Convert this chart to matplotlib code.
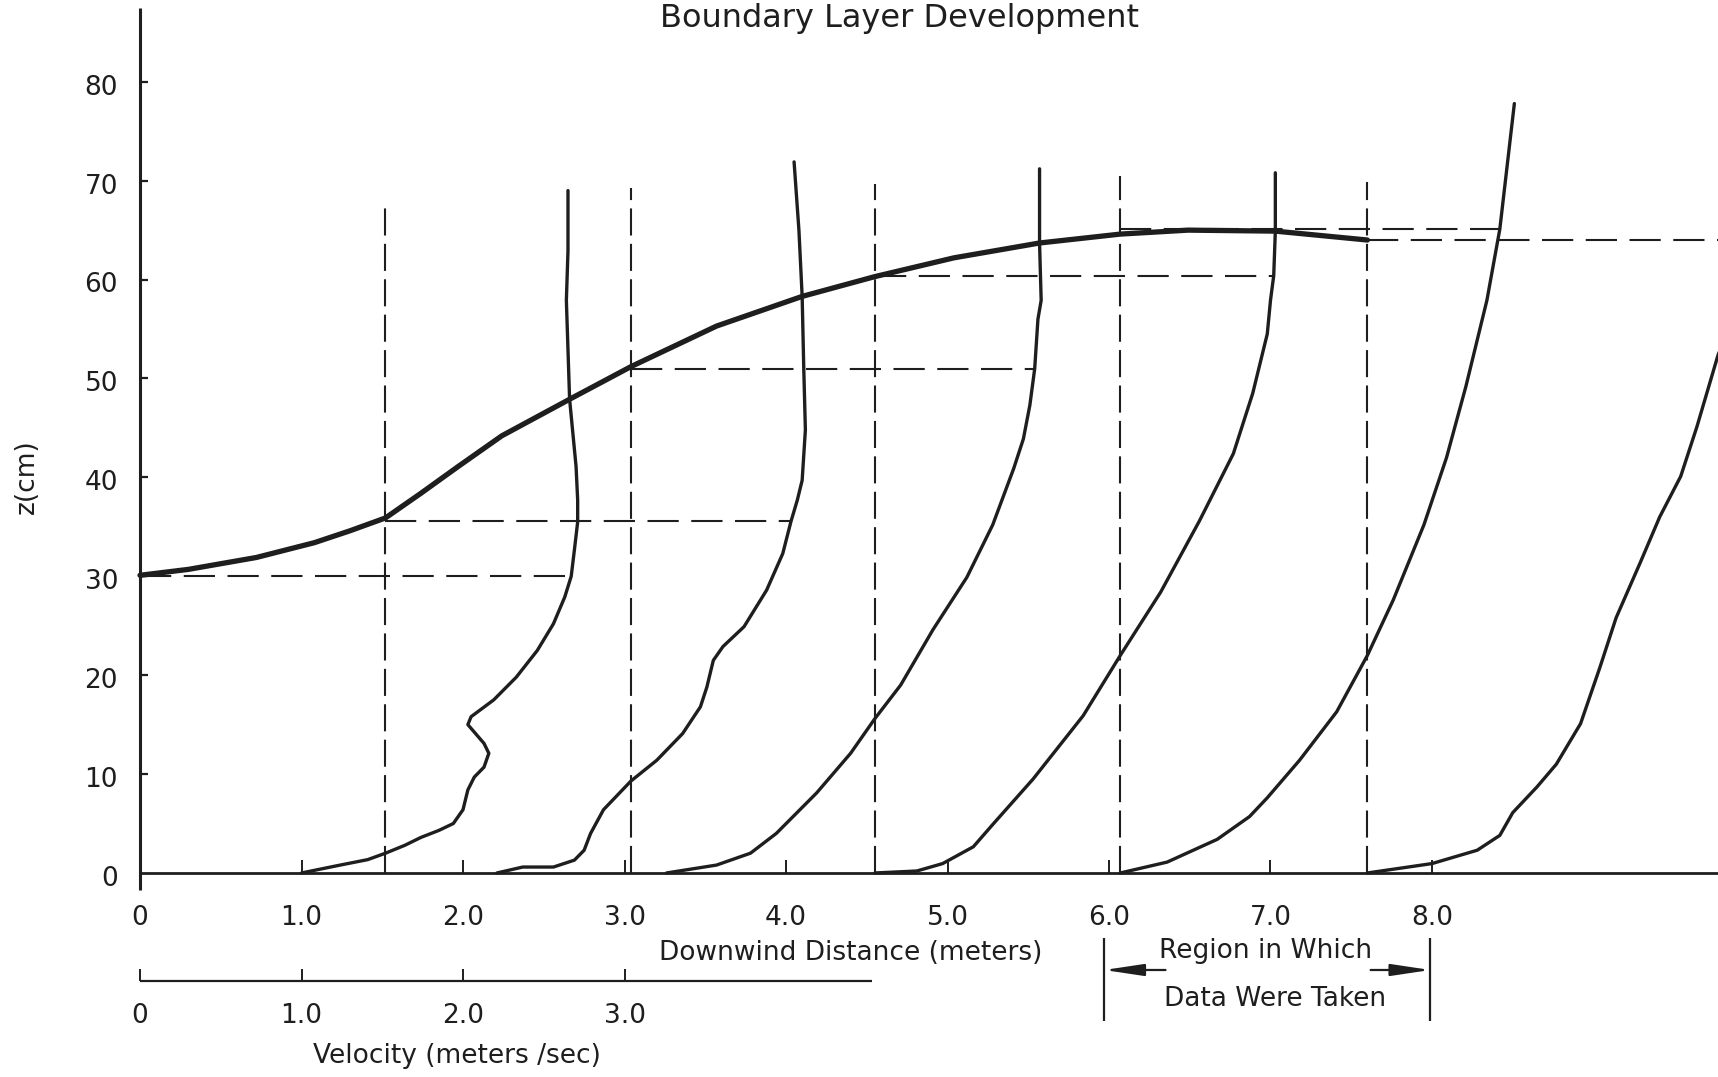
"""Boundary layer development: velocity profiles along the fetch."""
import matplotlib.pyplot as plt
import numpy as np

# Measurement stations, downwind distance [m].
stations = [0.0, 1.52, 3.04, 4.55, 6.07, 7.60]
# Top of the dashed station lines [cm] (station 0 is the z axis itself).
station_tops = [None, 67.5, 69.3, 69.7, 70.5, 69.9]
# Boundary layer thickness read at each station [cm].
delta = [30.0, 35.6, 51.0, 60.4, 65.1, 64.0]

# Velocity profiles: u [m/s] at height z [cm], drawn from each station.
z1 = [0.0, 0.8, 1.35, 2.0, 2.8, 3.6, 4.3, 5.0, 6.4, 8.4, 9.7, 10.7, 12.1,
      13.1, 15.0, 15.8, 17.5, 19.8, 22.5, 25.2, 27.9, 30.0, 32.7, 35.5,
      37.7, 41.1, 47.9, 57.9, 62.9, 69.0]
u1 = [1.00, 1.24, 1.41, 1.52, 1.64, 1.74, 1.85, 1.94, 2.00, 2.03, 2.07,
      2.13, 2.16, 2.13, 2.03, 2.05, 2.19, 2.33, 2.46, 2.56, 2.63, 2.67,
      2.69, 2.71, 2.71, 2.70, 2.66, 2.64, 2.65, 2.65]

z2 = [0.0, 0.6, 0.6, 1.3, 2.3, 4.0, 6.4, 9.3, 11.4, 14.1, 16.8, 18.8, 21.5,
      22.9, 24.9, 28.6, 32.3, 35.5, 37.7, 39.7, 44.8, 51.0, 58.3, 65.0, 71.9]
u2 = [0.69, 0.85, 1.04, 1.17, 1.23, 1.27, 1.35, 1.52, 1.68, 1.84, 1.95,
      1.99, 2.03, 2.09, 2.22, 2.36, 2.46, 2.51, 2.55, 2.58, 2.60, 2.59,
      2.58, 2.56, 2.53]

z3 = [0.0, 0.8, 2.0, 4.0, 8.1, 12.1, 15.6, 19.0, 24.6, 29.9, 35.2, 40.9,
      43.9, 47.3, 51.0, 56.0, 57.9, 63.7, 71.2]
u3 = [0.22, 0.53, 0.74, 0.90, 1.15, 1.36, 1.51, 1.67, 1.87, 2.08, 2.24,
      2.37, 2.43, 2.47, 2.50, 2.52, 2.54, 2.53, 2.53]

z4 = [0.0, 0.2, 0.95, 2.65, 4.9, 9.5, 15.9, 22.0, 28.4, 35.6, 42.4, 48.5,
      54.5, 57.9, 60.4, 64.9, 70.8]
u4 = [0.00, 0.26, 0.42, 0.61, 0.73, 0.98, 1.29, 1.52, 1.77, 2.01, 2.22,
      2.34, 2.43, 2.45, 2.47, 2.48, 2.48]

z5 = [0.0, 1.1, 3.4, 5.7, 7.6, 11.4, 16.3, 22.0, 27.6, 35.2, 42.0, 49.2,
      57.9, 65.1, 77.8]
u5 = [0.00, 0.29, 0.60, 0.80, 0.91, 1.11, 1.34, 1.53, 1.69, 1.88, 2.02,
      2.14, 2.27, 2.35, 2.44]

z6 = [0.0, 0.95, 2.3, 3.8, 6.1, 8.7, 11.0, 15.1, 20.8, 25.8, 31.4, 36.0,
      40.1, 45.1, 52.3, 56.0]
u6 = [0.00, 0.40, 0.68, 0.82, 0.90, 1.05, 1.17, 1.32, 1.44, 1.54, 1.69,
      1.81, 1.94, 2.04, 2.17, 2.25]

profiles = [(z1, u1), (z2, u2), (z3, u3), (z4, u4), (z5, u5), (z6, u6)]

# Boundary layer envelope (downwind distance [m], height [cm]).
bl_x = [0.0, 0.30, 0.72, 1.08, 1.30, 1.52, 1.74, 1.97, 2.24, 2.66, 3.04,
        3.57, 4.10, 4.55, 5.04, 5.57, 6.07, 6.49, 7.03, 7.60]
bl_z = [30.1, 30.7, 31.9, 33.4, 34.6, 35.9, 38.4, 41.1, 44.2, 47.9, 51.2,
        55.3, 58.3, 60.3, 62.2, 63.7, 64.6, 65.0, 64.9, 64.0]

# Axes.
x_ticks = [0, 1.0, 2.0, 3.0, 4.0, 5.0, 6.0, 7.0, 8.0]
x_tick_labels = ["0", "1.0", "2.0", "3.0", "4.0", "5.0", "6.0", "7.0", "8.0"]
z_ticks = [0, 10, 20, 30, 40, 50, 60, 70, 80]
z_tick_labels = ["0", "10", "20", "30", "40", "50", "60", "70", "80"]
vel_ticks = [0, 1.0, 2.0, 3.0]
vel_tick_labels = ["0", "1.0", "2.0", "3.0"]
vel_axis_end = 4.53
region = [5.97, 7.99]

# Plotting.
plt.rcParams.update({'font.family': 'DejaVu Sans'})
plt.rcParams.update({'font.size': 19})
ink = '#1e1e1e'

fig = plt.figure(figsize=(17.18, 10.77), dpi=100)
ax = fig.add_axes([0, 0, 1, 1])
xmin, xmax = -0.867, 9.771
zmin, zmax = -20.63, 88.27
ax.set_xlim(xmin, xmax)
ax.set_ylim(zmin, zmax)
ax.axis('off')

# Frame: z axis, ground line and tick marks.
ax.vlines(0, -1.7, 87.5, colors=ink, lw=2.2)
ax.hlines(0, 0, xmax, colors=ink, lw=2.0)
ax.vlines(x_ticks[1:], 0, 1.3, colors=ink, lw=1.4)
ax.hlines(z_ticks[1:], 0, 0.05, colors=ink, lw=1.6)
for x, lab in zip(x_ticks, x_tick_labels):
    ax.text(x, -5.3, lab, ha='center', va='baseline', color=ink)
for z, lab in zip(z_ticks, z_tick_labels):
    ax.text(-0.136, z - 1.3, lab, ha='right', va='baseline', color=ink)
ax.text(-0.70, 40.1, "z(cm)", rotation=90, ha='center', va='center',
        color=ink, fontsize=19)
ax.text(4.40, -8.8, "Downwind Distance (meters)", ha='center',
        va='baseline', color=ink)

# Velocity scale below.
vel_z = -10.88
ax.hlines(vel_z, 0, vel_axis_end, colors=ink, lw=1.6)
ax.vlines(vel_ticks, vel_z, vel_z + 1.2, colors=ink, lw=1.4)
for v, lab in zip(vel_ticks, vel_tick_labels):
    ax.text(v, -15.2, lab, ha='center', va='baseline', color=ink)
ax.text(1.96, -19.2, "Velocity (meters /sec)", ha='center', va='baseline',
        color=ink)

# Station lines (dashed verticals).
vdash = (0, (13, 4))
for st, top in zip(stations[1:], station_tops[1:]):
    ax.vlines(st, 0, top, colors=ink, lw=1.5, linestyles=[vdash])

# Velocity profiles and their boundary layer heights.
hdash = (0, (15, 6))
for st, (z, u), d in zip(stations, profiles, delta):
    xs = st + np.array(u)
    ax.plot(xs, z, color=ink, lw=2.4, solid_joinstyle='round',
            solid_capstyle='round')
    x_end = st + np.interp(d, z, u)
    ax.hlines(d, st, x_end, colors=ink, lw=1.5, linestyles=[hdash])

# Boundary layer envelope.
ax.plot(bl_x, bl_z, color=ink, lw=3.8, solid_joinstyle='round',
        solid_capstyle='round')

# Region in which data were taken.
ax.vlines(region, -14.96, -6.57, colors=ink, lw=1.6)
arrow = dict(arrowstyle='-|>,head_length=1.2,head_width=0.18',
             color=ink, lw=1.6, shrinkA=0, shrinkB=0, mutation_scale=20)
ax.annotate("", xy=(region[0], -9.81), xytext=(region[0] + 0.38, -9.81),
            arrowprops=arrow)
ax.annotate("", xy=(region[1], -9.81), xytext=(region[1] - 0.37, -9.81),
            arrowprops=arrow)
ax.text(6.97, -8.6, "Region in Which", ha='center', va='baseline', color=ink)
ax.text(7.03, -13.5, "Data Were Taken", ha='center', va='baseline', color=ink)

# Title, kept just inside the top edge.
ax.text(4.70, 85.5, "Boundary Layer Development", ha='center',
        va='baseline', color=ink, fontsize=23)

# Save.
plt.savefig('out.png', dpi=100)
